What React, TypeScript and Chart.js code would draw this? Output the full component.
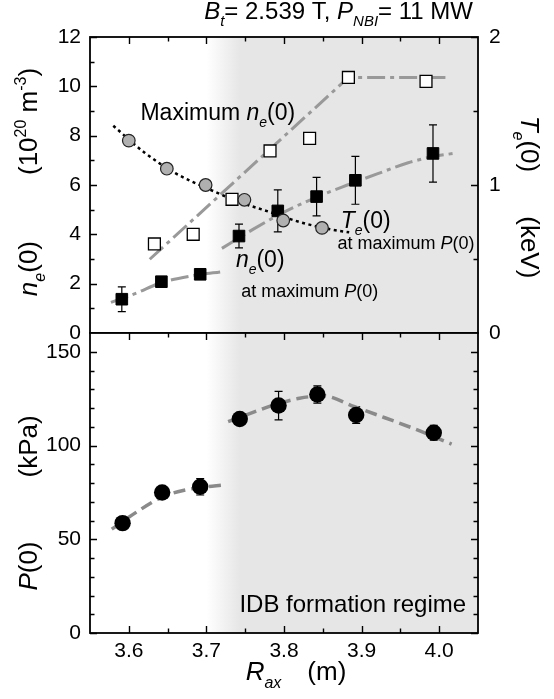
import React, { useEffect, useRef } from 'react';
import { Chart, registerables } from 'chart.js';
Chart.register(...registerables);

const FONT = 'Arial, "Liberation Sans", sans-serif';

// ---------- Top panel data ----------
const rMaxNe = [3.633, 3.683, 3.733, 3.782, 3.833, 3.883, 3.983];
const maxNe = [3.61, 4.0, 5.42, 7.38, 7.89, 10.36, 10.2];

const rNeAtP = [3.591, 3.642, 3.692, 3.742, 3.792, 3.842, 3.892, 3.992];
const neAtP = [1.37, 2.08, 2.38, 3.93, 4.95, 5.53, 6.19, 7.28];
const neAtPErr = [0.5, 0, 0, 0.48, 0.85, 0.78, 0.97, 1.16];

const rTe = [3.6, 3.649, 3.699, 3.749, 3.799, 3.849];
const teAtP = [1.3, 1.11, 1.0, 0.9, 0.76, 0.71];

const rMaxNeFit = [3.627, 3.883, 4.008];
const maxNeFit = [2.99, 10.36, 10.36];
const rNeFitA = [3.577, 3.61, 3.64, 3.68, 3.723];
const neFitA = [1.24, 1.62, 2.02, 2.31, 2.5];
const rNeFitB = [3.72, 3.76, 3.8, 3.84, 3.88, 3.92, 3.96, 3.99, 4.018];
const neFitB = [3.43, 4.2, 4.9, 5.48, 5.98, 6.45, 6.9, 7.14, 7.28];
const rTeFit = [3.58, 3.62, 3.66, 3.7, 3.74, 3.78, 3.82, 3.86, 3.884];
const teFit = [1.4, 1.22, 1.08, 0.98, 0.89, 0.82, 0.75, 0.7, 0.68];

// ---------- Bottom panel data ----------
const rP = [3.592, 3.643, 3.692, 3.743, 3.793, 3.843, 3.893, 3.993];
const pMax = [58.6, 74.9, 78.0, 114.1, 121.3, 127.2, 116.3, 106.8];
const pErr = [0, 0, 4.4, 0, 7.6, 4.6, 4.5, 4.0];
const rPFitA = [3.578, 3.61, 3.643, 3.67, 3.7, 3.719];
const pFitA = [55.4, 64.5, 72.5, 76, 78, 78.8];
const rPFitB = [3.728, 3.76, 3.79, 3.82, 3.85, 3.89, 3.93, 3.97, 4.016];
const pFitB = [112.7, 117.7, 122, 125.2, 126.5, 120.8, 114.8, 108.6, 100.7];

// ---------- Ticks ----------
const xTicks = [3.6, 3.7, 3.8, 3.9, 4.0];
const xMinor = [3.65, 3.75, 3.85, 3.95];
const neTicks = [0, 2, 4, 6, 8, 10, 12];
const neMinor = [1, 3, 5, 7, 9, 11];
const teTicks = [0, 1, 2];
const teMinor = [0.5, 1.5];
const pTicks = [0, 50, 100, 150];
const pMinor = [10, 20, 30, 40, 60, 70, 80, 90, 110, 120, 130, 140];

const X_MIN = 3.55;
const X_MAX = 4.05;

type Seg = { t: string; it?: boolean; sub?: boolean; sup?: boolean; gap?: number };

function rich(ctx: CanvasRenderingContext2D, segs: Seg[], x: number, y: number, size: number, align = 'left', rot = 0) {
  ctx.save();
  ctx.translate(x, y);
  if (rot) ctx.rotate(rot);
  ctx.fillStyle = '#000';
  ctx.textBaseline = 'alphabetic';
  ctx.textAlign = 'left';
  const fontFor = (s: Seg) => `${s.it ? 'italic ' : ''}${s.sub || s.sup ? Math.round(size * 0.63) : size}px ${FONT}`;
  let total = 0;
  const ws = segs.map((s) => {
    if (s.gap) {
      total += s.gap;
      return s.gap;
    }
    ctx.font = fontFor(s);
    const w = ctx.measureText(s.t).width;
    total += w;
    return w;
  });
  let cx = align === 'center' ? -total / 2 : align === 'right' ? -total : 0;
  segs.forEach((s, i) => {
    if (!s.gap) {
      ctx.font = fontFor(s);
      const dy = s.sub ? size * 0.3 : s.sup ? -size * 0.42 : 0;
      ctx.fillText(s.t, cx, dy);
    }
    cx += ws[i];
  });
  ctx.restore();
}

const pts = (xs: number[], ys: number[]) => xs.map((x, i) => ({ x, y: ys[i] }));

const bgPlugin = {
  id: 'bgGrad',
  beforeDraw(chart: any) {
    const { ctx, chartArea: a, scales } = chart;
    const x0 = scales.x.getPixelForValue(3.7);
    const x1 = scales.x.getPixelForValue(3.743);
    const g = ctx.createLinearGradient(x0, 0, x1, 0);
    g.addColorStop(0, '#ffffff');
    g.addColorStop(1, '#e6e6e6');
    ctx.save();
    ctx.fillStyle = g;
    ctx.fillRect(a.left, a.top, a.right - a.left, a.bottom - a.top);
    ctx.restore();
  },
};

function errPlugin(id: string, xs: number[], ys: number[], es: number[], axis: string) {
  return {
    id,
    beforeDatasetsDraw(chart: any) {
      const { ctx, scales } = chart;
      const sx = scales.x;
      const sy = scales[axis];
      ctx.save();
      ctx.strokeStyle = '#000';
      ctx.lineWidth = 1.2;
      xs.forEach((x, i) => {
        if (!es[i]) return;
        const px = sx.getPixelForValue(x);
        const y0 = sy.getPixelForValue(ys[i] - es[i]);
        const y1 = sy.getPixelForValue(ys[i] + es[i]);
        ctx.beginPath();
        ctx.moveTo(px, y0);
        ctx.lineTo(px, y1);
        ctx.moveTo(px - 4, y0);
        ctx.lineTo(px + 4, y0);
        ctx.moveTo(px - 4, y1);
        ctx.lineTo(px + 4, y1);
        ctx.stroke();
      });
      ctx.restore();
    },
  };
}

type TickSpec = {
  top: boolean;
  bottom: boolean;
  left: { id: string; major: number[]; minor: number[] };
  right: { id: string; major: number[]; minor: number[] };
};

function framePlugin(spec: TickSpec) {
  return {
    id: 'frameTicks',
    afterDraw(chart: any) {
      const { ctx, chartArea: a, scales } = chart;
      const MJ = 7;
      const MN = 4.5;
      ctx.save();
      ctx.strokeStyle = '#000';
      ctx.lineWidth = 1.4;
      ctx.beginPath();
      const sx = scales.x;
      const xt = (vals: number[], len: number) => {
        vals.forEach((v) => {
          const p = Math.round(sx.getPixelForValue(v)) + 0.5;
          if (spec.top) {
            ctx.moveTo(p, a.top);
            ctx.lineTo(p, a.top + len);
          }
          if (spec.bottom) {
            ctx.moveTo(p, a.bottom);
            ctx.lineTo(p, a.bottom - len);
          }
        });
      };
      xt(xTicks, MJ);
      xt(xMinor, MN);
      const yt = (side: 'left' | 'right', vals: number[], len: number, id: string) => {
        const s = scales[id];
        vals.forEach((v) => {
          const p = Math.round(s.getPixelForValue(v)) + 0.5;
          if (side === 'left') {
            ctx.moveTo(a.left, p);
            ctx.lineTo(a.left + len, p);
          } else {
            ctx.moveTo(a.right, p);
            ctx.lineTo(a.right - len, p);
          }
        });
      };
      yt('left', spec.left.major, MJ, spec.left.id);
      yt('left', spec.left.minor, MN, spec.left.id);
      yt('right', spec.right.major, MJ, spec.right.id);
      yt('right', spec.right.minor, MN, spec.right.id);
      ctx.stroke();
      ctx.lineWidth = 1.8;
      ctx.strokeRect(a.left, a.top, a.right - a.left, a.bottom - a.top);
      ctx.restore();
    },
  };
}

const tickFont = { family: FONT, size: 21 };
const zeroPadV = (s: any) => {
  s.paddingTop = 0;
  s.paddingBottom = 0;
};

function topConfig(): any {
  const textPlugin = {
    id: 'topText',
    afterDraw(chart: any) {
      const { ctx, chartArea: a, scales } = chart;
      const X = (v: number) => scales.x.getPixelForValue(v);
      const Y = (v: number) => scales.y.getPixelForValue(v);
      rich(ctx, [
        { t: 'B', it: true }, { t: 't', it: true, sub: true }, { t: '= 2.539 T, ' },
        { t: 'P', it: true }, { t: 'NBI', it: true, sub: true }, { t: '= 11 MW' },
      ], a.right - 5, a.top - 18, 24, 'right');
      rich(ctx, [{ t: 'Maximum ' }, { t: 'n', it: true }, { t: 'e', it: true, sub: true }, { t: '(0)' }], X(3.615), Y(8.63), 23);
      rich(ctx, [{ t: 'T', it: true }, { t: 'e', it: true, sub: true }, { t: '(0)' }], X(3.873), Y(4.26), 23);
      rich(ctx, [{ t: 'at maximum ' }, { t: 'P', it: true }, { t: '(0)' }], X(3.869), Y(3.4), 18);
      rich(ctx, [{ t: 'n', it: true }, { t: 'e', it: true, sub: true }, { t: '(0)' }], X(3.738), Y(2.69), 23);
      rich(ctx, [{ t: 'at maximum ' }, { t: 'P', it: true }, { t: '(0)' }], X(3.745), Y(1.47), 18);
      rich(ctx, [
        { t: 'n', it: true }, { t: 'e', it: true, sub: true }, { t: '(0)' }, { t: '', gap: 66 }, { t: '(10' }, { t: '20', sup: true },
        { t: ' m' }, { t: '-3', sup: true }, { t: ')' },
      ], 37, 182, 26, 'center', -Math.PI / 2);
      rich(ctx, [{ t: 'T', it: true }, { t: 'e', it: true, sub: true }, { t: '(0)' }, { t: '', gap: 44 }, { t: '(keV)' }], 521, 197, 26, 'center', Math.PI / 2);
    },
  };
  return {
    type: 'scatter',
    data: {
      datasets: [
        { data: pts(rTe, teAtP), yAxisID: 'y1', pointStyle: 'circle', pointRadius: 6.3, pointBackgroundColor: '#b0b0b0', backgroundColor: '#b0b0b0', pointBorderColor: '#222', borderColor: '#222', pointBorderWidth: 1.2, showLine: false },
        { data: pts(rNeAtP, neAtP), yAxisID: 'y', pointStyle: 'rect', pointRadius: 8.2, pointBackgroundColor: '#000', backgroundColor: '#000', pointBorderColor: '#000', borderColor: '#000', pointBorderWidth: 1, showLine: false },
        { data: pts(rMaxNe, maxNe), yAxisID: 'y', pointStyle: 'rect', pointRadius: 8.4, pointBackgroundColor: '#fff', backgroundColor: '#fff', pointBorderColor: '#000', borderColor: '#000', pointBorderWidth: 1.3, showLine: false },
        { data: pts(rTeFit, teFit), yAxisID: 'y1', showLine: true, borderColor: '#000', borderWidth: 2.5, borderDash: [3, 3.5], pointRadius: 0, cubicInterpolationMode: 'monotone' },
        { data: pts(rMaxNeFit, maxNeFit), yAxisID: 'y', showLine: true, borderColor: '#999', borderWidth: 3, borderDash: [18, 5, 4, 5], pointRadius: 0, tension: 0 },
        { data: pts(rNeFitA, neFitA), yAxisID: 'y', showLine: true, borderColor: '#999', borderWidth: 3, borderDash: [18, 5, 4, 5], pointRadius: 0, cubicInterpolationMode: 'monotone' },
        { data: pts(rNeFitB, neFitB), yAxisID: 'y', showLine: true, borderColor: '#999', borderWidth: 3, borderDash: [18, 5, 4, 5], pointRadius: 0, cubicInterpolationMode: 'monotone' },
      ],
    },
    options: {
      responsive: false,
      animation: false,
      events: [],
      layout: { padding: { top: 37, bottom: 12, left: 0, right: 0 } },
      plugins: { legend: { display: false }, tooltip: { enabled: false } },
      scales: {
        x: { type: 'linear', min: X_MIN, max: X_MAX, display: false },
        y: {
          type: 'linear', position: 'left', min: 0, max: 12,
          afterBuildTicks: (s: any) => { s.ticks = neTicks.map((v) => ({ value: v })); },
          ticks: { font: tickFont, color: '#000', padding: 9 },
          grid: { display: false, drawTicks: false },
          border: { display: false },
          afterFit: (s: any) => { s.width = 90; zeroPadV(s); },
        },
        y1: {
          type: 'linear', position: 'right', min: 0, max: 2,
          afterBuildTicks: (s: any) => { s.ticks = teTicks.map((v) => ({ value: v })); },
          ticks: { font: tickFont, color: '#000', padding: 11 },
          grid: { display: false, drawTicks: false },
          border: { display: false },
          afterFit: (s: any) => { s.width = 76; zeroPadV(s); },
        },
      },
    },
    plugins: [
      bgPlugin,
      errPlugin('errTop', rNeAtP, neAtP, neAtPErr, 'y'),
      framePlugin({ top: true, bottom: false, left: { id: 'y', major: neTicks, minor: neMinor }, right: { id: 'y1', major: teTicks, minor: teMinor } }),
      textPlugin,
    ],
  };
}

function botConfig(): any {
  const textPlugin = {
    id: 'botText',
    afterDraw(chart: any) {
      const { ctx, chartArea: a, scales } = chart;
      const X = (v: number) => scales.x.getPixelForValue(v);
      const Y = (v: number) => scales.y.getPixelForValue(v);
      rich(ctx, [{ t: 'IDB formation regime' }], X(3.7425), Y(11.1), 24);
      rich(ctx, [{ t: 'P', it: true }, { t: '(0)' }, { t: '', gap: 64 }, { t: '(kPa)' }], 37, 183, 26, 'center', -Math.PI / 2);
      rich(ctx, [{ t: 'R', it: true }, { t: 'ax', it: true, sub: true }, { t: '', gap: 26 }, { t: '(m)' }], (a.left + a.right) / 2 + 12, a.bottom + 47, 26, 'center');
    },
  };
  return {
    type: 'scatter',
    data: {
      datasets: [
        { data: pts(rP, pMax), yAxisID: 'y', pointStyle: 'circle', pointRadius: 8.2, pointBackgroundColor: '#000', backgroundColor: '#000', pointBorderColor: '#000', borderColor: '#000', pointBorderWidth: 0, showLine: false },
        { data: pts(rPFitA, pFitA), yAxisID: 'y', showLine: true, borderColor: '#8a8a8a', borderWidth: 3.5, borderDash: [12, 6], pointRadius: 0, cubicInterpolationMode: 'monotone' },
        { data: pts(rPFitB, pFitB), yAxisID: 'y', showLine: true, borderColor: '#8a8a8a', borderWidth: 3.5, borderDash: [12, 6], pointRadius: 0, cubicInterpolationMode: 'monotone' },
      ],
    },
    options: {
      responsive: false,
      animation: false,
      events: [],
      layout: { padding: { top: 13, bottom: 0, left: 0, right: 76 } },
      plugins: { legend: { display: false }, tooltip: { enabled: false } },
      scales: {
        x: {
          type: 'linear', position: 'bottom', min: X_MIN, max: X_MAX,
          afterBuildTicks: (s: any) => { s.ticks = xTicks.map((v) => ({ value: v })); },
          ticks: { font: tickFont, color: '#000', padding: 6, maxRotation: 0, callback: (v: any) => Number(v).toFixed(1) },
          grid: { display: false, drawTicks: false },
          border: { display: false },
          afterFit: (s: any) => { s.height = 66; s.paddingLeft = 0; s.paddingRight = 0; },
        },
        y: {
          type: 'linear', position: 'left', min: 0, max: 160,
          afterBuildTicks: (s: any) => { s.ticks = pTicks.map((v) => ({ value: v })); },
          ticks: { font: tickFont, color: '#000', padding: 9 },
          grid: { display: false, drawTicks: false },
          border: { display: false },
          afterFit: (s: any) => { s.width = 90; zeroPadV(s); },
        },
      },
    },
    plugins: [
      bgPlugin,
      errPlugin('errBot', rP, pMax, pErr, 'y'),
      framePlugin({ top: true, bottom: true, left: { id: 'y', major: pTicks, minor: pMinor }, right: { id: 'y', major: pTicks, minor: pMinor } }),
      textPlugin,
    ],
  };
}

export default function App() {
  const topRef = useRef<HTMLCanvasElement>(null);
  const botRef = useRef<HTMLCanvasElement>(null);
  useEffect(() => {
    const c1 = new Chart(topRef.current as HTMLCanvasElement, topConfig());
    const c2 = new Chart(botRef.current as HTMLCanvasElement, botConfig());
    return () => {
      c1.destroy();
      c2.destroy();
    };
  }, []);
  return (
    <div style={{ position: 'fixed', left: 0, top: 0, width: 554, height: 699, background: '#fff', overflow: 'hidden' }}>
      <canvas ref={topRef} width={554} height={345} style={{ position: 'absolute', left: 0, top: 0, width: 554, height: 345 }} />
      <canvas ref={botRef} width={554} height={379} style={{ position: 'absolute', left: 0, top: 320, width: 554, height: 379 }} />
    </div>
  );
}
